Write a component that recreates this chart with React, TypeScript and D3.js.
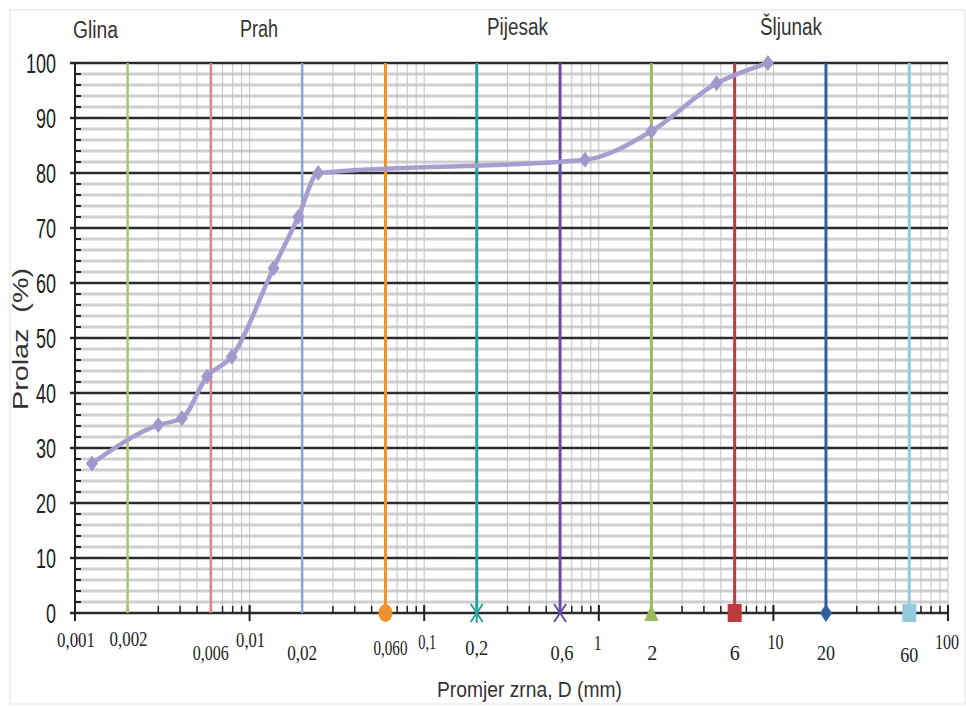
import React from "react";
import * as d3 from "d3";

const grainSize = [0.00125, 0.003, 0.0041, 0.0057, 0.0079, 0.0137, 0.019, 0.0247, 0.834, 2.0, 4.73, 9.3];
const passing = [27.2, 34.2, 35.4, 43, 46.6, 62.7, 72, 80, 82.4, 87.6, 96.3, 100];

const boundaryValues = [0.002, 0.006, 0.02, 0.06, 0.2, 0.6, 2, 6, 20, 60];
const boundaryColors = ["#a9c76c", "#de8489", "#87a7d6", "#ef922d", "#2ba39e", "#6a4e9d", "#9bbb59", "#be3a3c", "#2f5e9c", "#93cbdc"];
const boundaryMarkers = ["none", "none", "none", "circle", "star", "x", "triangle", "square", "diamond", "square"];

const decadeTicks = [0.001, 0.01, 0.1, 1, 10, 100];
const yTicks = [0, 10, 20, 30, 40, 50, 60, 70, 80, 90, 100];

const xLabelTexts = ["0,001", "0,002", "0,006", "0,01", "0,02", "0,060", "0,1", "0,2", "0,6", "1", "2", "6", "10", "20", "60", "100"];
const xLabelValues = [0.001, 0.002, 0.006, 0.01, 0.02, 0.06, 0.1, 0.2, 0.6, 1, 2, 6, 10, 20, 60, 100];
const xLabelDx = [1, 1, 0, 1, 0, 5, 3, 0, 2, -1, 1, 0, 2, 0, 0, -1];
const xLabelBase = [647, 646, 660, 647, 660, 655, 649, 655, 660, 650, 660, 660, 649, 660, 662, 649];
const xLabelWidth = [38, 38, 36, 29, 30, 34, 18, 23, 23, 8, 10, 10, 16, 18, 18, 24];

const zoneNames = ["Glina", "Prah", "Pijesak", "Šljunak"];
const zoneX = [73, 240, 487, 760];
const zoneW = [45, 38, 61, 62];
const zoneBase = [38, 37, 35, 35];

const X0 = 75, X1 = 948, Y0 = 613, Y1 = 63;

export default function App() {
  const x = d3.scaleLog().domain([0.001, 100]).range([X0, X1]);
  const y = d3.scaleLinear().domain([0, 100]).range([Y0, Y1]);

  const minorX: number[] = [];
  for (let e = -3; e < 2; e++) {
    for (let k = 1; k <= 9; k++) {
      const v = k * Math.pow(10, e);
      if (v > 0.001) minorX.push(v);
    }
  }
  minorX.push(100);
  const minorY = d3.range(2, 101, 2).filter((v) => v % 10 !== 0);
  const allYTicks = d3.range(0, 101, 2);

  const pts: [number, number][] = grainSize.map((d, i) => [x(d), y(passing[i])]);
  const line = d3.line().curve(d3.curveMonotoneX)(pts) || "";

  const marker = (type: string, cx: number, cy: number, color: string) => {
    switch (type) {
      case "circle":
        return <ellipse cx={cx} cy={cy} rx={7} ry={9} fill={color} />;
      case "square":
        return <rect x={cx - 7} y={cy - 9} width={14} height={18} fill={color} />;
      case "diamond":
        return <path d={`M${cx},${cy - 9}L${cx + 6},${cy}L${cx},${cy + 9}L${cx - 6},${cy}Z`} fill={color} />;
      case "triangle":
        return <path d={`M${cx},${cy - 9}L${cx + 7},${cy + 8}L${cx - 7},${cy + 8}Z`} fill={color} />;
      case "x":
        return (
          <g stroke={color} strokeWidth={2}>
            <line x1={cx - 6} y1={cy - 9} x2={cx + 6} y2={cy + 9} />
            <line x1={cx + 6} y1={cy - 9} x2={cx - 6} y2={cy + 9} />
          </g>
        );
      case "star":
        return (
          <g stroke={color} strokeWidth={2}>
            <line x1={cx - 6} y1={cy - 9} x2={cx + 6} y2={cy + 9} />
            <line x1={cx + 6} y1={cy - 9} x2={cx - 6} y2={cy + 9} />
            <line x1={cx} y1={cy - 10} x2={cx} y2={cy + 10} />
          </g>
        );
      default:
        return null;
    }
  };

  return (
    <svg width={966} height={707} style={{ position: "absolute", left: 0, top: 0, background: "#fff" }}>
      <rect x={10} y={10} width={955} height={694} fill="#fff" stroke="#e2e2e2" strokeWidth={1} />
      {minorY.map((v) => (
        <line key={"my" + v} x1={X0} x2={X1} y1={y(v)} y2={y(v)} stroke="#cfcfcf" strokeWidth={3} />
      ))}
      {minorX.map((v, i) => (
        <line key={"mx" + i} x1={x(v)} x2={x(v)} y1={Y1} y2={Y0} stroke="#c2c2c2" strokeWidth={1} />
      ))}
      {yTicks.map((v) => (
        <line key={"My" + v} x1={X0 - 5} x2={X1} y1={y(v)} y2={y(v)} stroke="#2b2b2b" strokeWidth={2.5} />
      ))}
      <line x1={X0} x2={X0} y1={Y1} y2={Y0} stroke="#222" strokeWidth={2} />
      {allYTicks.map((v) => (
        <line key={"yt" + v} x1={X0} x2={X0 + 6} y1={y(v)} y2={y(v)} stroke="#222" strokeWidth={2} />
      ))}
      {minorX.map((v, i) => (
        <line key={"xt" + i} x1={x(v)} x2={x(v)} y1={Y0} y2={Y0 - 7} stroke="#222" strokeWidth={1.5} />
      ))}
      {decadeTicks.map((v) => (
        <line key={"dt" + v} x1={x(v)} x2={x(v)} y1={Y0 - 8} y2={Y0 + 8} stroke="#222" strokeWidth={2} />
      ))}
      {boundaryValues.map((v, i) => (
        <g key={"b" + v}>
          <line x1={x(v)} x2={x(v)} y1={y(100)} y2={y(0)} stroke={boundaryColors[i]} strokeWidth={i < 3 ? 2.5 : 3} />
          {marker(boundaryMarkers[i], x(v), y(0), boundaryColors[i])}
        </g>
      ))}
      <path d={line} fill="none" stroke="#a79ecf" strokeWidth={4.5} strokeLinejoin="round" />
      {pts.map((p, i) => (
        <path
          key={"pt" + i}
          d={`M${p[0]},${p[1] - 8}L${p[0] + 6},${p[1]}L${p[0]},${p[1] + 8}L${p[0] - 6},${p[1]}Z`}
          fill="#a198cc"
        />
      ))}
      {yTicks.map((v) => (
        <text
          key={"yl" + v}
          x={56}
          y={y(v) + 10}
          textAnchor="end"
          fontFamily="Liberation Sans, Arial, sans-serif"
          fontSize={27}
          fill="#222"
          textLength={v === 100 ? 30 : v === 0 ? 10 : 20}
          lengthAdjust="spacingAndGlyphs"
        >
          {v}
        </text>
      ))}
      {xLabelTexts.map((t, i) => (
        <text
          key={"xl" + i}
          x={x(xLabelValues[i]) + xLabelDx[i] - xLabelWidth[i] / 2}
          y={xLabelBase[i]}
          fontFamily="Liberation Serif, Times New Roman, serif"
          fontSize={21}
          fill="#222"
          textLength={xLabelWidth[i]}
          lengthAdjust="spacingAndGlyphs"
        >
          {t}
        </text>
      ))}
      {zoneNames.map((n, i) => (
        <text
          key={"z" + n}
          x={zoneX[i]}
          y={zoneBase[i]}
          fontFamily="Liberation Sans, Arial, sans-serif"
          fontSize={23}
          fill="#333"
          textLength={zoneW[i]}
          lengthAdjust="spacingAndGlyphs"
        >
          {n}
        </text>
      ))}
      <text
        x={437}
        y={697}
        fontFamily="Liberation Sans, Arial, sans-serif"
        fontSize={22}
        fill="#333"
        textLength={185}
        lengthAdjust="spacingAndGlyphs"
      >
        Promjer zrna, D (mm)
      </text>
      <text
        transform="translate(28,410) rotate(-90)"
        x={0}
        y={0}
        fontFamily="Liberation Sans, Arial, sans-serif"
        fontSize={22}
        fill="#333"
        textLength={142}
        lengthAdjust="spacingAndGlyphs"
        style={{ whiteSpace: "pre" }}
      >
        Prolaz  (%)
      </text>
    </svg>
  );
}
